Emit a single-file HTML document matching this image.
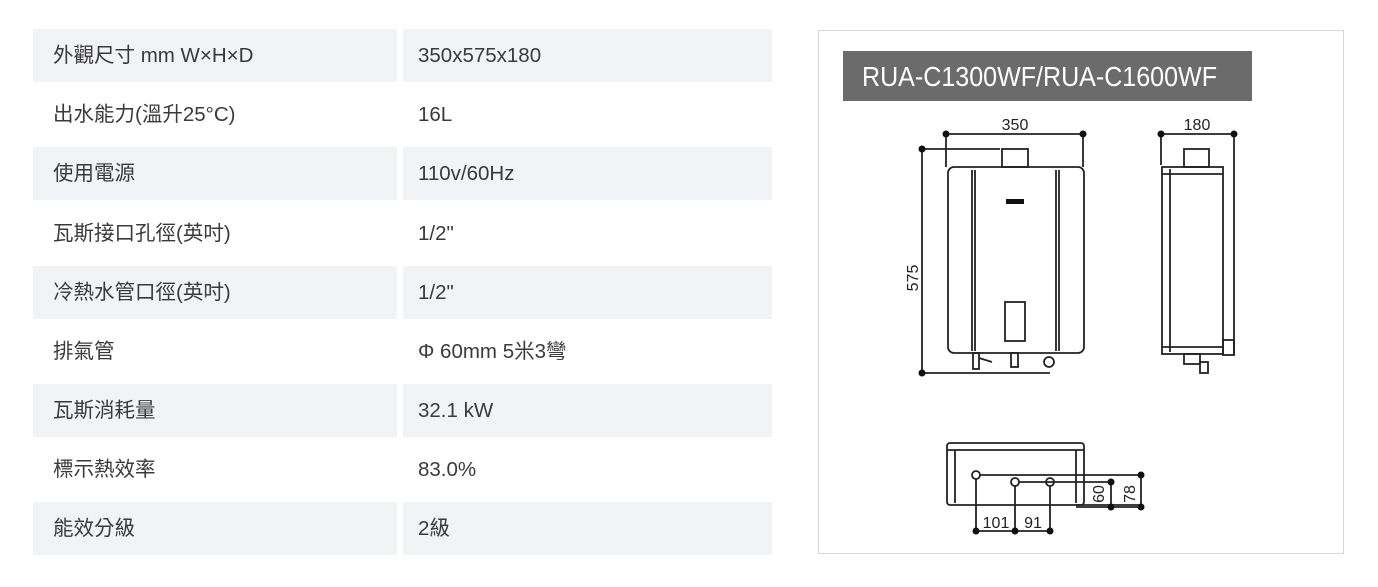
<!DOCTYPE html>
<html><head><meta charset="utf-8"><style>
html,body{margin:0;padding:0;background:#fff;width:1378px;height:587px;overflow:hidden}
.r{position:absolute;height:53px;line-height:53px;font-family:"Liberation Sans","Noto Sans CJK TC",sans-serif;font-size:20.5px;color:#3a3a3a}
.g{background:#f2f3f5}
.l{left:33px;width:364px}
.v{left:403px;width:369px}
.l span{padding-left:20px}
.v span{padding-left:15px}
</style></head><body>
<div class="r l g" style="top:29px"><span>外觀尺寸 mm W×H×D</span></div><div class="r v g" style="top:29px"><span>350x575x180</span></div>
<div class="r l" style="top:88px"><span>出水能力(溫升25°C)</span></div><div class="r v" style="top:88px"><span>16L</span></div>
<div class="r l g" style="top:147px"><span>使用電源</span></div><div class="r v g" style="top:147px"><span>110v/60Hz</span></div>
<div class="r l" style="top:207px"><span>瓦斯接口孔徑(英吋)</span></div><div class="r v" style="top:207px"><span>1/2"</span></div>
<div class="r l g" style="top:266px"><span>冷熱水管口徑(英吋)</span></div><div class="r v g" style="top:266px"><span>1/2"</span></div>
<div class="r l" style="top:325px"><span>排氣管</span></div><div class="r v" style="top:325px"><span>Φ 60mm 5米3彎</span></div>
<div class="r l g" style="top:384px"><span>瓦斯消耗量</span></div><div class="r v g" style="top:384px"><span>32.1 kW</span></div>
<div class="r l" style="top:443px"><span>標示熱效率</span></div><div class="r v" style="top:443px"><span>83.0%</span></div>
<div class="r l g" style="top:502px"><span>能效分級</span></div><div class="r v g" style="top:502px"><span>2級</span></div>

<svg style="position:absolute;left:0;top:0" width="1378" height="587" font-family="Liberation Sans, sans-serif">
<rect x="818.5" y="30.5" width="525" height="523" fill="none" stroke="#d8d8d8"/>
<rect x="843" y="51" width="409" height="50" fill="#6b6b6b"/>
<text x="862" y="86" fill="#fff" font-size="28" textLength="355" lengthAdjust="spacingAndGlyphs">RUA-C1300WF/RUA-C1600WF</text>
<g stroke="#222" stroke-width="1.8" fill="none">
<line x1="946" y1="134" x2="1083" y2="134"/><line x1="946" y1="134" x2="946" y2="167"/><line x1="1083" y1="134" x2="1083" y2="167"/>
<line x1="922" y1="149" x2="922" y2="373"/><line x1="922" y1="149" x2="1000" y2="149"/><line x1="922" y1="373" x2="1050" y2="373"/>
<rect x="1002" y="149" width="26" height="18"/>
<rect x="948" y="167" width="136" height="186" rx="6"/>
<line x1="972" y1="170" x2="972" y2="351"/><line x1="975" y1="170" x2="975" y2="351"/>
<line x1="1056" y1="170" x2="1056" y2="351"/><line x1="1059" y1="170" x2="1059" y2="351"/>
<rect x="1005" y="302" width="20" height="39"/>
<rect x="973" y="353" width="6" height="16"/><rect x="1011" y="353" width="7" height="14"/><circle cx="1049" cy="362" r="5"/>
<line x1="979" y1="358" x2="992" y2="362"/>
<line x1="1161" y1="134" x2="1234" y2="134"/><line x1="1161" y1="134" x2="1161" y2="165"/><line x1="1234" y1="134" x2="1234" y2="355"/>
<rect x="1184" y="149" width="25" height="18"/>
<rect x="1162" y="167" width="61" height="187"/>
<line x1="1170" y1="169" x2="1170" y2="352"/><line x1="1162" y1="174" x2="1223" y2="174"/><line x1="1162" y1="347" x2="1223" y2="347"/>
<rect x="1223" y="340" width="11" height="15"/>
<rect x="1184" y="354" width="16" height="10"/><rect x="1200" y="362" width="8" height="11"/>
<rect x="947" y="443" width="137" height="62" rx="3"/>
<line x1="947" y1="450" x2="1084" y2="450"/><line x1="955" y1="450" x2="955" y2="503"/><line x1="1076" y1="450" x2="1076" y2="503"/>
<line x1="1076" y1="505" x2="1141" y2="505"/>
<circle cx="976" cy="475" r="4"/><circle cx="1015" cy="482" r="4"/><circle cx="1050" cy="482" r="4"/>
<line x1="980" y1="475" x2="1141" y2="475"/><line x1="1019" y1="482" x2="1111" y2="482"/>
<line x1="1111" y1="482" x2="1111" y2="507"/><line x1="1141" y1="475" x2="1141" y2="507"/><line x1="1076" y1="507" x2="1141" y2="507"/>
<line x1="976" y1="479" x2="976" y2="531"/><line x1="1015" y1="486" x2="1015" y2="531"/><line x1="1050" y1="486" x2="1050" y2="531"/>
<line x1="976" y1="531" x2="1050" y2="531"/>
</g>
<g fill="#111">
<circle cx="946" cy="134" r="3.5"/><circle cx="1083" cy="134" r="3.5"/><circle cx="922" cy="149" r="3.5"/><circle cx="922" cy="373" r="3.5"/>
<circle cx="1161" cy="134" r="3.5"/><circle cx="1234" cy="134" r="3.5"/>
<circle cx="1141" cy="475" r="3.5"/><circle cx="1141" cy="507" r="3.5"/><circle cx="1111" cy="482" r="3.5"/><circle cx="1111" cy="507" r="3.5"/>
<circle cx="976" cy="531" r="3.5"/><circle cx="1015" cy="531" r="3.5"/><circle cx="1050" cy="531" r="3.5"/>
<rect x="1006" y="199" width="18" height="5"/>
</g>
<g fill="#222" font-size="16">
<text x="1015" y="130" text-anchor="middle">350</text>
<text x="1197" y="130" text-anchor="middle">180</text>
<text transform="translate(918,278) rotate(-90)" text-anchor="middle">575</text>
<text x="996" y="528" text-anchor="middle">101</text>
<text x="1033" y="528" text-anchor="middle">91</text>
<text transform="translate(1104,494) rotate(-90)" text-anchor="middle">60</text>
<text transform="translate(1135,494) rotate(-90)" text-anchor="middle">78</text>
</g>
</svg>
</body></html>
